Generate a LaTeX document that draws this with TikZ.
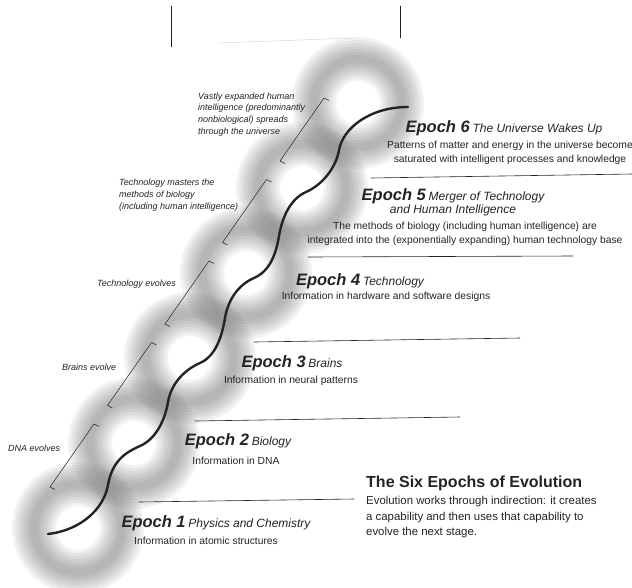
\documentclass[tikz,border=0pt]{standalone}
\usepackage{fontspec}
\setmainfont{Liberation Sans}
\usetikzlibrary{calc}
\definecolor{scangray}{RGB}{80,80,80}
\definecolor{inkblack}{RGB}{35,35,35}
\newcommand{\epochtitle}[2]{{\fontsize{16.5}{18}\selectfont\bfseries\itshape Epoch #1}\ {\fontsize{12}{14}\selectfont\itshape #2}}
\tikzset{
  epochhead/.style={inner sep=0pt,align=center,text=inkblack},
  epochdesc/.style={inner sep=0pt,align=center,text=inkblack,font=\fontsize{10.3}{13.5}\selectfont},
  sidenote/.style={inner sep=0pt,align=left,anchor=west,text=inkblack,font=\fontsize{9}{11.8}\selectfont\itshape},
  epochrule/.style={inkblack,line width=.6pt},
}

\begin{document}
\begin{tikzpicture}[x=1pt,y=-1pt,line cap=round,line join=round]
 \useasboundingbox (0,0) rectangle (632,587);
 \foreach \cx/\cy in {78/528,134/443,190/358,246/273,302/188,358/103}{
  \foreach \w in {44,38,...,8}{
   \draw[scangray,line width=\w pt,opacity=.075] (\cx,\cy) circle (44);
  }
 }
 \draw[inkblack,thin] (171,6)--(171,47);
 \draw[inkblack,thin] (400,6)--(400,38);
 \draw[gray!35] (218,43)--(354,38);
 \draw[epochrule] (139,502)--(354,499);
 \draw[epochrule] (195,421)--(460,417);
 \draw[epochrule] (254,342)--(520,338);
 \draw[epochrule] (308,257)--(573,256);
 \draw[epochrule] (371,178)--(632,174);
 \foreach \k in {0,...,4}{
  \coordinate (b\k) at ($(50,487)+\k*(57.5,-81.5)$);
  \coordinate (t\k) at ($(b\k)+(44,-63)$);
  \draw[inkblack,line width=.5pt]
   ($(b\k)+(5,2.5)$)--(b\k)--(t\k)--($(t\k)+(5,2.5)$);
 }
 \draw[inkblack,line width=2.4pt]
  (48,534) .. controls (82,530) and (104,508) .. (108,485)
  .. controls (112,462) and (124,453) .. (140,446)
  .. controls (156,439) and (165,420) .. (168,402)
  .. controls (171,384) and (184,370) .. (200,363)
  .. controls (216,356) and (222,336) .. (225,318)
  .. controls (228,300) and (238,285) .. (254,278)
  .. controls (270,271) and (276,254) .. (279,236)
  .. controls (282,218) and (290,199) .. (306,192)
  .. controls (322,185) and (336,168) .. (339,150)
  .. controls (343,128) and (370,107) .. (408,107);
 \node[sidenote] (n5) at (198,114.5)
  {Vastly expanded human\\intelligence (predominantly\\nonbiological) spreads\\through the universe};
 \node[sidenote] (n4) at (119,195)
  {Technology masters the\\methods of biology\\(including human intelligence)};
 \node[sidenote] (n3) at (97,284) {Technology evolves};
 \node[sidenote] (n2) at (62,367) {Brains evolve};
 \node[sidenote] (n1) at (8,448) {DNA evolves};
 \node[epochhead] (e6) at (504,128) {\epochtitle{6}{The Universe Wakes Up}};
 \node[epochdesc] (d6) at (510,153)
  {Patterns of matter and energy in the universe become\\saturated with intelligent processes and knowledge};
 \node[epochhead] (e5) at (453,202.5)
  {\epochtitle{5}{Merger of Technology}\\{\fontsize{12}{15}\selectfont\itshape and Human Intelligence}};
 \node[epochdesc] (d5) at (465,234)
  {The methods of biology (including human intelligence) are\\integrated into the (exponentially expanding) human technology base};
 \node[epochhead] (e4) at (360,281) {\epochtitle{4}{Technology}};
 \node[epochdesc] (d4) at (386,297) {Information in hardware and software designs};
 \node[epochhead] (e3) at (292,363) {\epochtitle{3}{Brains}};
 \node[epochdesc] (d3) at (291,381) {Information in neural patterns};
 \node[epochhead] (e2) at (238,441) {\epochtitle{2}{Biology}};
 \node[epochdesc] (d2) at (236,461) {Information in DNA};
 \node[epochhead] (e1) at (216,523) {\epochtitle{1}{Physics and Chemistry}};
 \node[epochdesc] (d1) at (206,541) {Information in atomic structures};
 \node[inner sep=0pt,anchor=west,text=inkblack,font=\fontsize{16}{18}\selectfont\bfseries]
  (six) at (366,483) {The Six Epochs of Evolution};
 \node[inner sep=0pt,anchor=west,align=left,text=inkblack,font=\fontsize{11.4}{15.5}\selectfont]
  (why) at (366,517.5)
  {Evolution works through indirection: it creates\\a capability and then uses that capability to\\evolve the next stage.};
\end{tikzpicture}
\end{document}
